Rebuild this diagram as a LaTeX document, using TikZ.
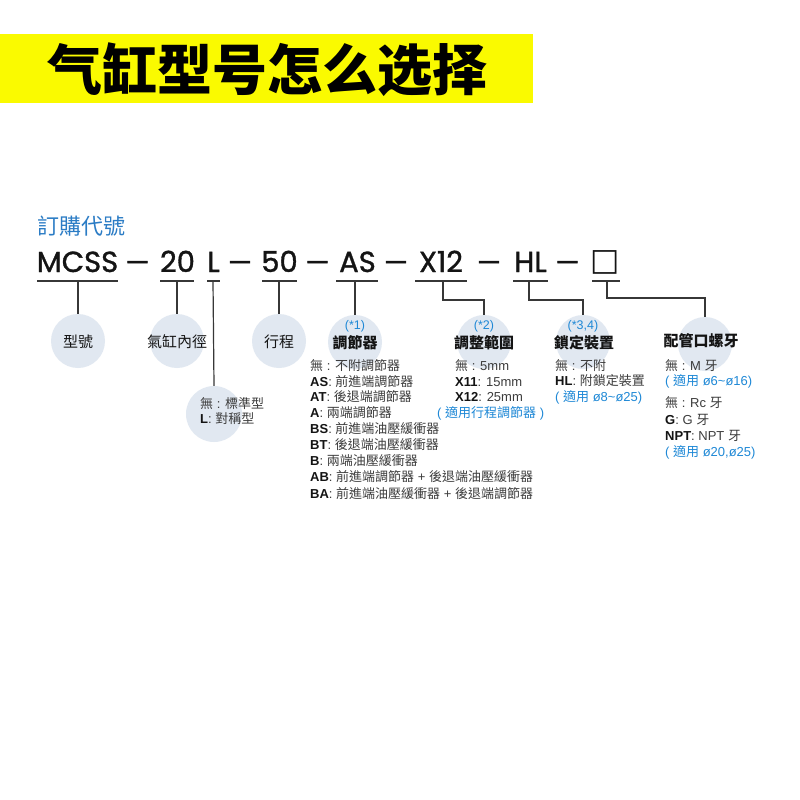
\documentclass[tikz,border=0pt]{standalone}
\usepackage{fontspec}
\setmainfont{Liberation Sans}
\newfontfamily\cjk{Noto Sans CJK TC}
\newfontfamily\cjksc{Noto Sans CJK SC}
\newfontfamily\codefont{Poppins}[FakeBold=1.2]
\newfontfamily\symfont{DejaVu Sans}
\usetikzlibrary{calc}
\definecolor{ttlyellow}{RGB}{250,250,0}
\definecolor{hdblue}{RGB}{43,124,197}
\definecolor{noteblue}{RGB}{30,136,214}
\definecolor{circfill}{RGB}{225,232,241}
\definecolor{desctext}{RGB}{60,60,60}
\definecolor{ink}{RGB}{20,20,20}
\newcommand\zh[1]{{\cjk #1}}
\newcommand\kw[1]{{\bfseries\color{ink}#1}}
\begin{document}
\begin{tikzpicture}[x=1pt,y=-1pt,
  conn/.style={draw=ink!85, line width=1.2pt},
  bubble/.style={circle, fill=circfill, minimum size=54pt, inner sep=0pt},
  code/.style={font=\codefont\fontsize{29}{30}\selectfont, text=ink, inner sep=0pt, anchor=base},
  dashtok/.style={font=\codefont\fontsize{27}{28}\selectfont, text=ink, inner sep=0pt, anchor=base},
  lbl/.style={font=\cjk\bfseries\fontsize{15}{16}\selectfont, text=ink, inner sep=0pt},
  plainlbl/.style={font=\cjk\fontsize{15}{16}\selectfont, text=ink, inner sep=0pt},
  starnote/.style={font=\fontsize{12.5}{13}\selectfont, text=noteblue, inner sep=0pt},
  desc/.style={font=\fontsize{13}{14}\selectfont, text=desctext, inner sep=0pt, anchor=base west},
  note/.style={desc, text=noteblue}]
\useasboundingbox (0,0) rectangle (800,800);
\fill[white] (0,0) rectangle (800,800);
% banner
\fill[ttlyellow] (0,34) rectangle (533,103);
\node[font=\cjksc\bfseries\fontsize{55}{56}\selectfont, text=black, inner sep=0pt] (title) at (267,70) {气缸型号怎么选择};
% heading
\node[font=\cjk\fontsize{22}{23}\selectfont, text=hdblue, inner sep=0pt, anchor=west] (head) at (37,226) {訂購代號};
% code line
\node[code] (mcss) at (77.5,272) {MCSS};
\node[dashtok] (d1) at (137.5,272) {—};
\node[code] (n20) at (177.5,272) {20};
\node[code] (nL) at (213.5,272) {L};
\node[dashtok] (d2) at (240,272) {—};
\node[code] (n50) at (279.5,272) {50};
\node[dashtok] (d3) at (317.5,272) {—};
\node[code] (nAS) at (357.5,272) {AS};
\node[dashtok] (d4) at (396,272) {—};
\node[code] (nX) at (441,272) {X12};
\node[dashtok] (d5) at (489,272) {—};
\node[code] (nHL) at (530.5,272) {HL};
\node[dashtok] (d6) at (567.5,272) {—};
\node[font=\symfont\fontsize{31}{32}\selectfont, text=ink, inner sep=0pt] (sq) at (605,262) {□};
% underline coordinates
\coordinate (u1a) at (37,281); \coordinate (u1b) at (118,281); \coordinate (u1) at (78,281);
\coordinate (u2a) at (160,281); \coordinate (u2b) at (194,281); \coordinate (u2) at (177,281);
\coordinate (u3a) at (207,281); \coordinate (u3b) at (220,281); \coordinate (u3) at (213,281);
\coordinate (u4a) at (262,281); \coordinate (u4b) at (297,281); \coordinate (u4) at (279,281);
\coordinate (u5a) at (336,281); \coordinate (u5b) at (378,281); \coordinate (u5) at (355,281);
\coordinate (u6a) at (415,281); \coordinate (u6b) at (467,281); \coordinate (u6) at (443,281);
\coordinate (u7a) at (513,281); \coordinate (u7b) at (548,281); \coordinate (u7) at (529,281);
\coordinate (u8a) at (592,281); \coordinate (u8b) at (620,281); \coordinate (u8) at (607,281);
\foreach \i in {1,...,8} {\draw[conn] (u\i a) -- (u\i b);}
% bubbles
\node[bubble] (c1) at (78,341) {};
\node[bubble] (c2) at (177,341) {};
\node[bubble] (c3) at (279,341) {};
\node[bubble, minimum size=56pt] (cL) at (214,414) {};
\node[bubble] (c4) at (355,342) {};
\node[bubble] (c5) at (484,342) {};
\node[bubble] (c6) at (583,342) {};
\node[bubble] (c7) at (705,344) {};
% connectors
\draw[conn] (u1) -- (c1.north);
\draw[conn] (u2) -- (c2.north);
\draw[conn] (u3) -- (cL.north);
\draw[conn] (u4) -- (c3.north);
\draw[conn] (u5) -- (c4.north);
\coordinate (k5) at (484,300);
\coordinate (k6) at (583,300);
\coordinate (k7) at (705,298);
\draw[conn] (u6) |- (k5) -- (c5.north);
\draw[conn] (u7) |- (k6) -- (c6.north);
\draw[conn] (u8) |- (k7) -- (c7.north);
% bubble labels
\node[plainlbl] (t1) at (78,342) {型號};
\node[plainlbl] (t2) at (177,342) {氣缸內徑};
\node[plainlbl] (t3) at (279,342) {行程};
\node[starnote] (s4) at (355,326) {(*1)};
\node[lbl] (t4) at (355,343) {調節器};
\node[starnote] (s5) at (484,326) {(*2)};
\node[lbl] (t5) at (484,343) {調整範圍};
\node[starnote] (s6) at (583,326) {(*3,4)};
\node[lbl] (t6) at (584,343) {鎖定裝置};
\node[lbl] (t7) at (701,341) {配管口螺牙};
% L options
\node[desc] (L1) at (200,408) {\zh{無} : \zh{標準型}};
\node[desc] (L2) at (200,423) {\kw{L}: \zh{對稱型}};
% column 1
\node[desc] (a1) at (310,370) {\zh{無} : \zh{不附調節器}};
\node[desc] (a2) at (310,386.5) {\kw{AS}: \zh{前進端調節器}};
\node[desc] (a3) at (310,401.5) {\kw{AT}: \zh{後退端調節器}};
\node[desc] (a4) at (310,417) {\kw{A}: \zh{兩端調節器}};
\node[desc] (a5) at (310,433) {\kw{BS}: \zh{前進端油壓緩衝器}};
\node[desc] (a6) at (310,449.5) {\kw{BT}: \zh{後退端油壓緩衝器}};
\node[desc] (a7) at (310,465) {\kw{B}: \zh{兩端油壓緩衝器}};
\node[desc] (a8) at (310,481.5) {\kw{AB}: \zh{前進端調節器} + \zh{後退端油壓緩衝器}};
\node[desc] (a9) at (310,498) {\kw{BA}: \zh{前進端油壓緩衝器} + \zh{後退端調節器}};
% column 2
\node[desc] (b1) at (455,370) {\zh{無} : 5mm};
\node[desc] (b2) at (455,386.5) {\kw{X11}: 15mm};
\node[desc] (b3) at (455,401.5) {\kw{X12}: 25mm};
\node[note] (b4) at (437,417) {( \zh{適用行程調節器} )};
% column 3
\node[desc] (e1) at (555,370) {\zh{無} : \zh{不附}};
\node[desc] (e2) at (555,385.5) {\kw{HL}: \zh{附鎖定裝置}};
\node[note] (e3) at (555,401.5) {( \zh{適用} ø8\textasciitilde ø25)};
% column 4
\node[desc] (f1) at (665,370) {\zh{無} : M \zh{牙}};
\node[note] (f2) at (665,385.5) {( \zh{適用} ø6\textasciitilde ø16)};
\node[desc] (f3) at (665,407) {\zh{無} : Rc \zh{牙}};
\node[desc] (f4) at (665,424) {\kw{G}: G \zh{牙}};
\node[desc] (f5) at (665,440) {\kw{NPT}: NPT \zh{牙}};
\node[note] (f6) at (665,456) {( \zh{適用} ø20,ø25)};
\end{tikzpicture}
\end{document}
